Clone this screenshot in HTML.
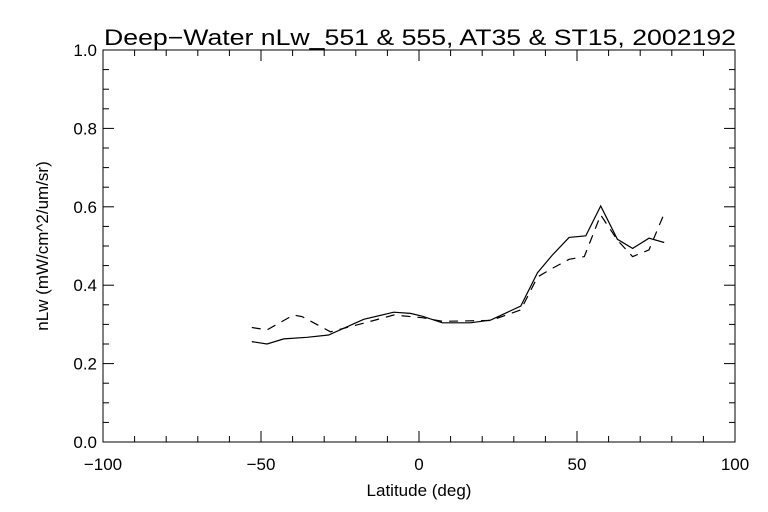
<!DOCTYPE html>
<html><head><meta charset="utf-8"><style>
body{margin:0;background:#fff}
svg{display:block}
text{font-family:"Liberation Sans",sans-serif;fill:#000}
</style></head><body>
<svg id="chart" width="768" height="512" viewBox="0 0 768 512">
<rect width="768" height="512" fill="#fff"/>
<text x="104" y="45" font-size="22" textLength="632" lengthAdjust="spacingAndGlyphs">Deep−Water nLw_551 &amp; 555, AT35 &amp; ST15, 2002192</text>
<rect x="103" y="50" width="632" height="392" fill="none" stroke="#000" stroke-width="1"/>
<g id="axes"></g>
<g id="series"></g>
<text x="419" y="496" font-size="17" text-anchor="middle">Latitude (deg)</text>
<text transform="translate(48,246) rotate(-90)" font-size="17" text-anchor="middle">nLw (mW/cm^2/um/sr)</text>
</svg>
<script>
const xTicks=[-100,-50,0,50,100];
const yTicks=[0.0,0.2,0.4,0.6,0.8,1.0];
const latSolid=[-52.9,-48.1,-42.8,-35.4,-28.6,-17.5,-8,-2.7,1,7.4,16.3,22.7,32.2,37.5,42.2,47.5,52.8,57.5,62.8,67.6,72.8,77.6];
const nlw551=[0.256,0.25,0.263,0.267,0.273,0.313,0.331,0.328,0.321,0.304,0.304,0.311,0.347,0.432,0.477,0.522,0.526,0.602,0.517,0.494,0.52,0.509];
const latDash=[-52.9,-48.1,-39.7,-37,-28,-17.5,-8,1,7.4,22.7,32.2,37.5,42.2,47.5,52.3,57.5,62.8,67.6,72.8,77.6];
const nlw555=[0.292,0.286,0.324,0.32,0.281,0.303,0.324,0.317,0.308,0.31,0.337,0.421,0.443,0.466,0.473,0.579,0.515,0.473,0.49,0.583];
const X0=103,X1=735,Y0=442,Y1=50;
const xs=v=>X0+(v+100)/200*(X1-X0);
const ys=v=>Y0-v*(Y0-Y1);
const NS="http://www.w3.org/2000/svg";
const axes=document.getElementById('axes');
function ln(x1,y1,x2,y2,name){const l=document.createElementNS(NS,'line');
l.setAttribute('x1',x1);l.setAttribute('y1',y1);l.setAttribute('x2',x2);l.setAttribute('y2',y2);
l.setAttribute('stroke','#000');l.setAttribute('stroke-width','1');


axes.appendChild(l);}
function tx(x,y,s,anchor,name){const t=document.createElementNS(NS,'text');
t.setAttribute('x',x);t.setAttribute('y',y);t.setAttribute('font-size','17');t.setAttribute('text-anchor',anchor);t.textContent=s;


axes.appendChild(t);}
for(let v=-100;v<=100;v+=10){const x=xs(v);const major=v%50===0;const L=major?11:6;
ln(x,Y0,x,Y0-L,'x-tick');ln(x,Y1,x,Y1+L,'x-tick-top');}
for(let i=0;i<=20;i++){const v=i*0.05;const y=ys(v);const major=i%4===0;const L=major?11:6;
ln(X0,y,X0+L,y,'y-tick');ln(X1,y,X1-L,y,'y-tick-right');}
xTicks.forEach(v=>tx(xs(v),470,String(v).replace('-','−'),'middle','x-tick-label'));
yTicks.forEach(v=>tx(X0-6,ys(v)+6,v.toFixed(1),'end','y-tick-label'));
const ser=document.getElementById('series');
function path(la,va,dash,name){const p=document.createElementNS(NS,'path');
p.setAttribute('d',la.map((l,i)=>(i?'L':'M')+xs(l).toFixed(1)+','+ys(va[i]).toFixed(1)).join(''));
p.setAttribute('fill','none');p.setAttribute('stroke','#000');p.setAttribute('stroke-width','1.2');
if(dash)p.setAttribute('stroke-dasharray','9,7');


ser.appendChild(p);}
path(latSolid,nlw551,false,'line-nlw-551');
path(latDash,nlw555,true,'line-nlw-555');
</script>
</body></html>
